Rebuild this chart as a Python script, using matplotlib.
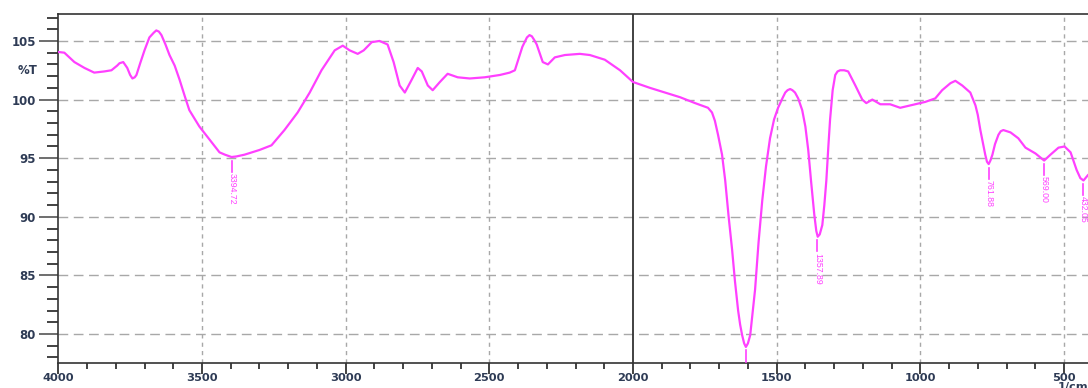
import matplotlib
matplotlib.use("Agg")
import matplotlib.pyplot as plt
from matplotlib.ticker import MultipleLocator, FixedLocator

# ---- data ----
wavenumber = [4000, 3979, 3944, 3909, 3875, 3840, 3815, 3795, 3787, 3774, 3760, 3750, 3742, 3734, 3728,
              3715, 3700, 3683, 3668, 3659, 3650, 3641, 3627, 3613, 3595, 3578, 3560, 3544, 3509,
              3474, 3439, 3420, 3397, 3380, 3352,
              3300, 3258, 3213, 3167, 3125, 3084, 3038, 3010, 2986, 2958, 2937, 2909,
              2882, 2854, 2833, 2812, 2794, 2770, 2749, 2735, 2714, 2697, 2672, 2645,
              2610, 2568, 2516, 2463, 2429, 2411, 2394, 2385, 2369, 2360, 2352, 2344, 2335, 2314, 2296,
              2272, 2237, 2185, 2150, 2098, 2045, 2000, 1941, 1889, 1836, 1784, 1739,
              1725, 1715, 1704, 1690, 1679, 1667, 1655, 1645, 1634, 1627, 1620, 1613, 1607, 1600,
              1592, 1585, 1575, 1563, 1550, 1537, 1523, 1509, 1495,
              1480, 1470, 1462, 1453, 1445, 1436, 1425, 1411, 1400, 1390, 1380, 1369, 1362, 1357,
              1350, 1341, 1334, 1327, 1320, 1314, 1305, 1296, 1288, 1279, 1265,
              1251, 1226, 1202, 1188, 1167, 1139, 1105, 1070, 1035, 983, 948, 924,
              895, 878, 854, 826, 808, 800, 791, 782, 774, 768, 762, 756, 749, 740, 728, 720, 711,
              686, 659, 634, 599, 569, 547, 519, 498, 477, 456, 443, 432, 415]
transmittance = [104.06, 104.0, 103.2, 102.7, 102.3, 102.4, 102.5, 102.9, 103.1, 103.2, 102.7, 102.1, 101.8, 101.9, 102.1,
                 103.1, 104.2, 105.3, 105.7, 105.9, 105.8, 105.5, 104.7, 103.8, 102.9, 101.7, 100.3, 99.1, 97.7,
                 96.6, 95.5, 95.3, 95.1, 95.15, 95.3,
                 95.7, 96.1, 97.4, 98.9, 100.6, 102.5, 104.2, 104.6, 104.2, 103.9, 104.2, 104.9,
                 105.0, 104.7, 103.2, 101.2, 100.6, 101.7, 102.7, 102.4, 101.2, 100.8, 101.5, 102.2,
                 101.9, 101.8, 101.9, 102.1, 102.3, 102.5, 103.8, 104.5, 105.3, 105.5, 105.4, 105.1, 104.7, 103.2, 103.0,
                 103.6, 103.8, 103.9, 103.8, 103.4, 102.5, 101.5, 101.0, 100.6, 100.2, 99.7, 99.3,
                 98.9, 98.2, 97.0, 95.3, 93.1, 90.0, 87.2, 84.5, 82.0, 80.8, 79.9, 79.2, 78.9, 79.2,
                 79.9, 81.5, 83.8, 87.8, 91.4, 94.3, 96.7, 98.3, 99.3,
                 100.1, 100.6, 100.8, 100.9, 100.8, 100.6, 100.1, 99.1, 97.7, 95.7, 93.0, 90.2, 88.8, 88.3,
                 88.5, 89.3, 91.0, 93.1, 96.0, 98.3, 100.8, 102.1, 102.4, 102.5, 102.5,
                 102.4, 101.2, 100.0, 99.7, 100.0, 99.6, 99.6, 99.3, 99.5, 99.8, 100.1, 100.8,
                 101.4, 101.6, 101.2, 100.6, 99.5, 98.7, 97.4, 96.3, 95.3, 94.7, 94.5, 94.8, 95.3, 96.2, 97.0, 97.3, 97.4,
                 97.2, 96.7, 95.9, 95.4, 94.8, 95.3, 95.9, 96.0, 95.5, 94.0, 93.3, 93.1, 93.6]

peak_wn = [3394.72, 1607.0, 1357.89, 761.88, 569.00, 432.05]
peak_t = [95.1, 78.9, 88.3, 94.5, 94.8, 93.1]
peak_labels = ["3394.72", "", "1357.89", "761.88", "569.00", "432.05"]

x_major = [4000, 3500, 3000, 2500, 2000, 1500, 1000, 500]
y_major = [80, 85, 90, 95, 100, 105]

W, H = 1088, 388
fig = plt.figure(figsize=(W / 100, H / 100), dpi=100)
left, right, top, bottom = 58.3, 1092.7, 14, 363
ax = fig.add_axes([left / W, 1 - bottom / H, (right - left) / W, (bottom - top) / H])
ax.set_xlim(4000, 400)
ax.set_ylim(77.53, 107.3)

mag = "#ff40ff"
tick_col = "#2e3b55"

# grid
for yv in y_major:
    ax.axhline(yv, color="#a8a8a8", lw=1.0, ls=(0, (7, 4)), zorder=1)
for xv in x_major:
    if xv == 2000:
        ax.axvline(xv, color="#333333", lw=1.3, zorder=1)
    elif xv != 4000:
        ax.axvline(xv, color="#a8a8a8", lw=1.0, ls=(0, (3, 3)), zorder=1)

ax.plot(wavenumber, transmittance, color=mag, lw=1.6, zorder=3,
        solid_joinstyle="round", solid_capstyle="round")

for w, t, lab in zip(peak_wn, peak_t, peak_labels):
    ax.plot([w, w], [t - 0.3, t - 1.25], color=mag, lw=1.2, zorder=3)
    if lab:
        ax.text(w, t - 1.35, lab, rotation=270, ha="center", va="top",
                fontsize=6.3, color=mag, family="Liberation Sans", zorder=3)

ax.xaxis.set_major_locator(FixedLocator(x_major))
ax.xaxis.set_minor_locator(MultipleLocator(100))
ax.yaxis.set_major_locator(FixedLocator(y_major))
ax.yaxis.set_minor_locator(MultipleLocator(1))
ax.tick_params(axis="x", which="major", direction="out", length=8, width=1.2,
               color="#222222", labelsize=8.2, labelcolor=tick_col, pad=-1)
ax.tick_params(axis="x", which="minor", direction="out", length=4, width=1.2, color="#222222")
ax.tick_params(axis="y", which="major", direction="out", length=14, width=1.2,
               color="#555555", labelsize=8.5, labelcolor=tick_col, pad=2)
ax.tick_params(axis="y", which="minor", direction="out", length=8, width=1.2, color="#222222")
for lbl in ax.get_xticklabels() + ax.get_yticklabels():
    lbl.set_fontweight("semibold")

for s in ["left", "top", "bottom"]:
    ax.spines[s].set_color("#333333")
    ax.spines[s].set_linewidth(1.2)
ax.spines["right"].set_visible(False)

fig.text(38 / W, 1 - 70 / H, "%T", ha="right", va="center", fontsize=8.5,
         color=tick_col, fontweight="semibold")
fig.text(1058 / W, 1 - 382 / H, "1/cm", ha="left", va="top", fontsize=8.2,
         color=tick_col, fontweight="semibold")

fig.savefig("out.png", dpi=100)
